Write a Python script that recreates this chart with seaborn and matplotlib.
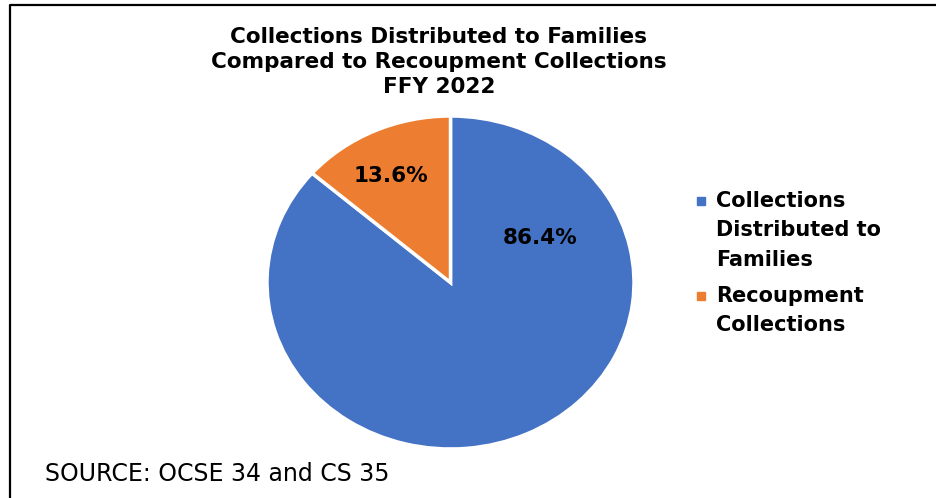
import matplotlib
matplotlib.use("Agg")
import matplotlib.pyplot as plt
from matplotlib.lines import Line2D
from matplotlib.patches import Rectangle
import seaborn as sns

# data
categories = ["Collections\nDistributed to\nFamilies", "Recoupment\nCollections"]
shares = [86.4, 13.6]
pct_labels = ["86.4%", "13.6%"]
title_lines = "Collections Distributed to Families\nCompared to Recoupment Collections\nFFY 2022"
source_note = "SOURCE: OCSE 34 and CS 35"

sns.set_theme(style="white")
plt.rcParams["font.family"] = ["DejaVu Sans"]
plt.rcParams["text.color"] = "black"
colors = ["#4472C4", "#ED7D31"]

W, H = 936, 498
fig = plt.figure(figsize=(W / 100, H / 100), dpi=100)

# pie is slightly stretched in the reference: centre (450.5, 282.5), rx 183.5, ry 166.5
cx, cy, rx, ry = 450.5, 282.5, 183.5, 166.5
ax = fig.add_axes([(cx - rx) / W, (H - cy - ry) / H, 2 * rx / W, 2 * ry / H])
wedges, _ = ax.pie(shares, colors=colors, startangle=90, counterclock=False,
                   radius=1, wedgeprops=dict(edgecolor="white", linewidth=2.5))
ax.set_xlim(-1, 1)
ax.set_ylim(-1, 1)
ax.set_aspect("auto")
ax.axis("off")

# percentage labels
label_pos = [(0.488, 0.267), (-0.324, 0.64)]
for (x, y), txt in zip(label_pos, pct_labels):
    ax.text(x, y, txt, ha="center", va="center", fontsize=15.5, fontweight="bold", color="black")

# title
fig.text(439 / W, 1 - 62 / H, title_lines, ha="center", va="center", fontsize=15.5,
         fontweight="bold", linespacing=1.33, color="black")

# legend drawn by hand: square next to first line of each label
legend_tops = [201, 296]
for top, lab, col in zip(legend_tops, categories, colors):
    fig.patches.append(Rectangle((697 / W, 1 - (top + 4) / H), 8 / W, 8 / H,
                                 transform=fig.transFigure, color=col))
    fig.text(716 / W, 1 - (top - 10) / H, lab, ha="left", va="top", fontsize=15,
             fontweight="bold", linespacing=1.58, color="black")

# source note
fig.text(45 / W, 1 - 474 / H, source_note, ha="left", va="center", fontsize=17, color="black")

# frame (top and left visible)
fig.lines.append(Line2D([9.5 / W, 9.5 / W, 1], [0, 1 - 5.5 / H, 1 - 5.5 / H],
                        transform=fig.transFigure, color="black", linewidth=1.6))

fig.savefig("out.png", dpi=100)
